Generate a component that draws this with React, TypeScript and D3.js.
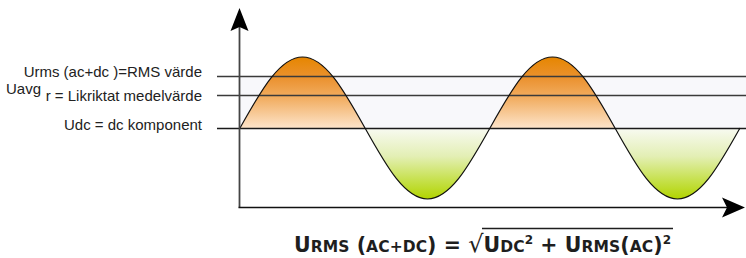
import React, { useEffect, useRef } from 'react';
import * as d3 from 'd3';

// Wave samples (position in periods, value in amplitude units)
const wavePos = [0, 0.125, 0.25, 0.375, 0.5, 0.625, 0.75, 0.875, 1, 1.125, 1.25, 1.375, 1.5, 1.625, 1.75, 1.875, 2];
const waveVal = [0, 0.71, 1, 0.71, 0, -0.71, -1, -0.71, 0, 0.71, 1, 0.71, 0, -0.71, -1, -0.71, 0];

// Horizontal reference levels
const levelKeys = ['rms', 'avg', 'dc'];
const levelValues = [0.73, 0.46, 0];

// Formula pieces: [text, kind] kind: B = big, S = small cap, R = radical, P = superscript
const formula: [string, string][] = [
  ['U', 'B'], ['RMS', 'S'], [' (', 'B'], ['AC+DC', 'S'], [')', 'B'], [' = ', 'B'], ['√', 'R'],
  ['U', 'B'], ['DC', 'S'], ['2', 'P'], [' + ', 'B'], ['U', 'B'], ['RMS', 'S'], ['(', 'B'], ['AC', 'S'], [')', 'B'], ['2', 'P'],
];

const W = 746;
const H = 258;

export default function App() {
  const ref = useRef<SVGSVGElement | null>(null);

  useEffect(() => {
    const svg = d3.select(ref.current);
    svg.selectAll('*').remove();

    const x = d3.scaleLinear().domain([0, 2]).range([240, 740]);
    const y = d3.scaleLinear().domain([-1, 1]).range([199, 57]);

    const defs = svg.append('defs');
    const y0 = y(0);
    const og = defs.append('linearGradient').attr('id', 'og').attr('gradientUnits', 'userSpaceOnUse')
      .attr('x1', 0).attr('x2', 0).attr('y1', y(1)).attr('y2', y0);
    [[0, '#e68600'], [0.3, '#eb9230'], [0.6, '#f2b066'], [1, '#fde4ca']].forEach(([o, c]) =>
      og.append('stop').attr('offset', o as number).attr('stop-color', c as string));
    const gg = defs.append('linearGradient').attr('id', 'gg').attr('gradientUnits', 'userSpaceOnUse')
      .attr('x1', 0).attr('x2', 0).attr('y1', y0).attr('y2', y(-1));
    [[0, '#f8faf2'], [0.4, '#e3efb4'], [0.75, '#c5e048'], [1, '#b2d400']].forEach(([o, c]) =>
      gg.append('stop').attr('offset', o as number).attr('stop-color', c as string));
    defs.append('clipPath').attr('id', 'cTop').append('rect').attr('x', 0).attr('y', 0).attr('width', W).attr('height', y0);
    defs.append('clipPath').attr('id', 'cBot').append('rect').attr('x', 0).attr('y', y0).attr('width', W).attr('height', H - y0);

    const data = wavePos.map((p, i) => [p, waveVal[i]] as [number, number]);

    // light band between rms and dc
    svg.append('rect').attr('x', x(0)).attr('y', y(levelValues[0])).attr('width', W - x(0))
      .attr('height', y(levelValues[2]) - y(levelValues[0])).attr('fill', '#f8f8fb');

    const area = d3.area<[number, number]>().x(d => x(d[0])).y0(y0).y1(d => y(d[1])).curve(d3.curveNatural);
    svg.append('path').attr('d', area(data)!).attr('fill', 'url(#og)').attr('clip-path', 'url(#cTop)');
    svg.append('path').attr('d', area(data)!).attr('fill', 'url(#gg)').attr('clip-path', 'url(#cBot)');

    // level lines
    levelKeys.forEach((k, i) => {
      svg.append('line').attr('x1', 217).attr('x2', W).attr('y1', Math.round(y(levelValues[i])) + 0.5)
        .attr('y2', Math.round(y(levelValues[i])) + 0.5)
        .attr('stroke', k === 'dc' ? '#1a1a1a' : '#3a3a3a').attr('stroke-width', k === 'dc' ? 1.3 : 1.6);
    });

    const line = d3.line<[number, number]>().x(d => x(d[0])).y(d => y(d[1])).curve(d3.curveNatural);
    svg.append('path').attr('d', line(data)!).attr('fill', 'none').attr('stroke', '#111').attr('stroke-width', 1.2);

    // axes
    const ax = 239.5;
    const ay = 207.5;
    svg.append('line').attr('x1', ax).attr('x2', ax).attr('y1', ay).attr('y2', 26).attr('stroke', '#444').attr('stroke-width', 1.8);
    svg.append('path').attr('d', `M${ax},8 L${ax + 9},31 L${ax},27 L${ax - 9},31 Z`).attr('fill', '#000');
    svg.append('line').attr('x1', ax - 1).attr('x2', 730).attr('y1', ay).attr('y2', ay).attr('stroke', '#111').attr('stroke-width', 1.6);
    svg.append('path').attr('d', `M745,${ay} L722,${ay - 10} L727,${ay} L722,${ay + 10} Z`).attr('fill', '#000');

    // labels
    const lab = svg.append('g').attr('font-family', 'Liberation Sans, Arial, sans-serif').attr('font-size', 15).attr('fill', '#222');
    lab.append('text').attr('x', 202).attr('y', 77).attr('text-anchor', 'end').text('Urms (ac+dc )=RMS värde');
    lab.append('text').attr('x', 6).attr('y', 94).text('Uavg');
    lab.append('text').attr('x', 202).attr('y', 101).attr('text-anchor', 'end').text('r = Likriktat medelvärde');
    lab.append('text').attr('x', 202).attr('y', 130).attr('text-anchor', 'end').text('Udc = dc komponent');

    // formula
    const f = svg.append('text').attr('x', 294).attr('y', 252).attr('font-family', 'DejaVu Sans, sans-serif')
      .attr('font-weight', 700).attr('font-size', 20.5).attr('fill', '#1e1e1e')
      .attr('textLength', 377).attr('lengthAdjust', 'spacing');
    let sup = false;
    let idx = 0;
    let rIdx = 0;
    formula.forEach(([t, k]) => {
      const ts = f.append('tspan').text(t);
      if (k === 'S') ts.attr('font-size', 15.5);
      if (k === 'R') { ts.attr('font-size', 24).attr('font-weight', 400); rIdx = idx; }
      if (k === 'P') { ts.attr('font-size', 12).attr('dy', -8).attr('font-weight', 600); sup = true; }
      else if (sup) { ts.attr('dy', 8); sup = false; }
      idx += t.length;
    });
    const tn = f.node() as SVGTextElement;
    const n = tn.getNumberOfChars();
    const sq = tn.getExtentOfChar(rIdx);
    const last = tn.getExtentOfChar(n - 1);
    svg.append('line').attr('x1', sq.x + sq.width - 1.5).attr('x2', last.x + last.width + 2).attr('y1', 228.5).attr('y2', 228.5)
      .attr('stroke', '#1e1e1e').attr('stroke-width', 1.5);
  }, []);

  return <svg ref={ref} width={W} height={H} style={{ position: 'absolute', left: 0, top: 0, background: '#fff' }} />;
}
